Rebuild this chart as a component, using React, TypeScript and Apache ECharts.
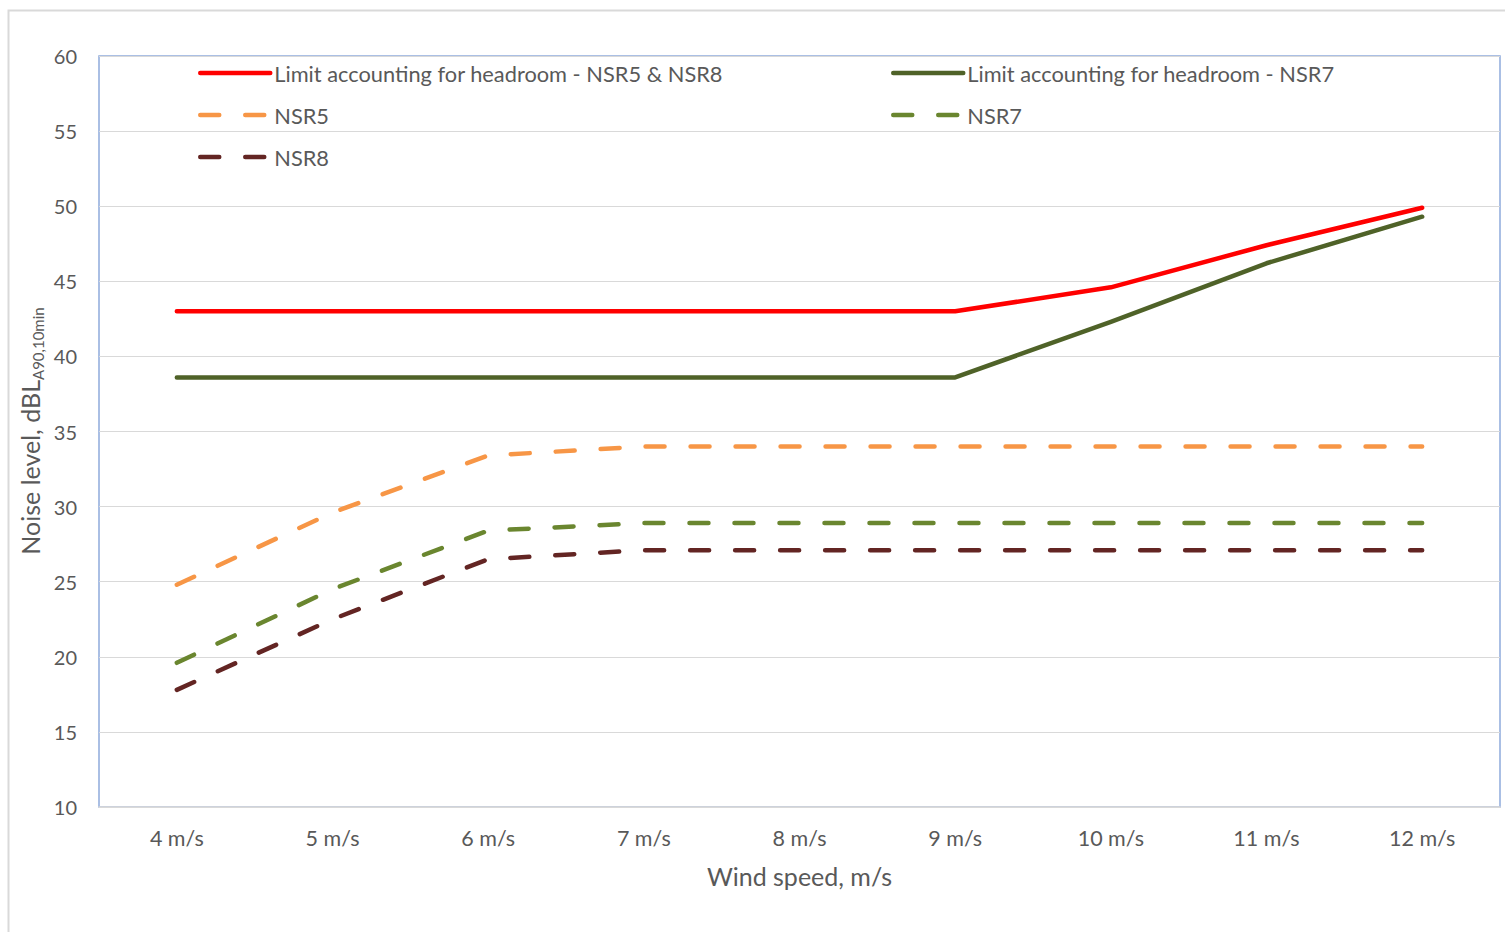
import React, { useEffect, useRef } from "react";
import * as echarts from "echarts";

const categories = ["4 m/s", "5 m/s", "6 m/s", "7 m/s", "8 m/s", "9 m/s", "10 m/s", "11 m/s", "12 m/s"];
const limitNSR5_8 = [43, 43, 43, 43, 43, 43, 44.6, 47.4, 49.9];
const limitNSR7 = [38.6, 38.6, 38.6, 38.6, 38.6, 38.6, 42.3, 46.2, 49.3];
const nsr5 = [24.8, 29.6, 33.4, 34, 34, 34, 34, 34, 34];
const nsr7 = [19.6, 24.5, 28.4, 28.9, 28.9, 28.9, 28.9, 28.9, 28.9];
const nsr8 = [17.8, 22.5, 26.5, 27.1, 27.1, 27.1, 27.1, 27.1, 27.1];
const yTicks = { min: 10, max: 60, interval: 5 };

const FONT = "Lato, 'Open Sans', sans-serif";
const TXT = "#595959";

export default function App() {
  const ref = useRef<HTMLDivElement>(null);
  useEffect(() => {
    if (!ref.current) return;
    const chart = echarts.init(ref.current, undefined, { renderer: "svg" });
    const dash = [19, 26];
    const mk = (name: string, data: number[], color: string, dashed: boolean) => ({
      name,
      type: "line",
      data,
      symbol: "none",
      smooth: false,
      lineStyle: { color, width: 4.5, type: dashed ? dash : "solid", cap: "round", join: "round" },
      itemStyle: { color },
    });
    const legendCommon = {
      itemWidth: 70,
      itemHeight: 14,
      padding: 0,
      itemGap: 6,
      itemStyle: { opacity: 0, borderWidth: 0 },
      lineStyle: { width: 4.5, cap: "round" },
      textStyle: { fontFamily: FONT, fontSize: 21.8, color: TXT, padding: [0, 0, 0, -1] },
    };
    const legendItem = (name: string, left: number, cy: number) => ({
      ...legendCommon,
      data: [name],
      left,
      top: cy - 13,
    });
    chart.setOption({
      animation: false,
      backgroundColor: "#ffffff",
      grid: {
        left: 99,
        top: 56,
        right: 5,
        bottom: 125,
        show: true,
        borderColor: "#8faadc",
        borderWidth: 1.5,
        containLabel: false,
      },
      legend: [
        legendItem("Limit accounting for headroom - NSR5 & NSR8", 198, 75),
        legendItem("Limit accounting for headroom - NSR7", 891, 75),
        legendItem("NSR5", 198, 117),
        legendItem("NSR7", 891, 117),
        legendItem("NSR8", 198, 159),
      ],
      xAxis: {
        type: "category",
        data: categories,
        boundaryGap: true,
        axisLine: { show: true, lineStyle: { color: "#d9d9d9", width: 1.5 } },
        axisTick: { show: false },
        axisLabel: { fontFamily: FONT, fontSize: 21.5, color: TXT, margin: 20 },
        name: "Wind speed, m/s",
        nameLocation: "middle",
        nameGap: 56,
        nameTextStyle: { fontFamily: FONT, fontSize: 25, color: TXT },
      },
      yAxis: {
        type: "value",
        min: yTicks.min,
        max: yTicks.max,
        interval: yTicks.interval,
        axisLine: { show: false },
        axisTick: { show: false },
        splitLine: { lineStyle: { color: "#d9d9d9", width: 1.2 } },
        axisLabel: { fontFamily: FONT, fontSize: 20, color: TXT, margin: 22 },
      },
      graphic: [
        {
          type: "rect",
          left: 6,
          top: 8,
          shape: { x: 0, y: 0, width: 1520, height: 940 },
          style: { fill: "none", stroke: "#d9d9d9", lineWidth: 2 },
          silent: true,
          z: -10,
        },
        {
          type: "text",
          x: 30,
          y: 431,
          rotation: Math.PI / 2,
          style: {
            text: "{a|Noise level, dBL}{b|A90,10min}",
            align: "center",
            verticalAlign: "middle",
            rich: {
              a: { fontFamily: FONT, fontSize: 25, fill: TXT, lineHeight: 30, verticalAlign: "middle" },
              b: { fontFamily: FONT, fontSize: 15, fill: TXT, lineHeight: 30, verticalAlign: "bottom" },
            },
          },
        },
      ],
      series: [
        mk("Limit accounting for headroom - NSR5 & NSR8", limitNSR5_8, "#ff0000", false),
        mk("Limit accounting for headroom - NSR7", limitNSR7, "#4f6228", false),
        mk("NSR5", nsr5, "#f79646", true),
        mk("NSR7", nsr7, "#6a862f", true),
        mk("NSR8", nsr8, "#632523", true),
      ],
    });
    return () => chart.dispose();
  }, []);
  return (
    <div
      ref={ref}
      style={{ position: "fixed", left: 0, top: 0, width: 1505, height: 932, background: "#fff" }}
    />
  );
}
